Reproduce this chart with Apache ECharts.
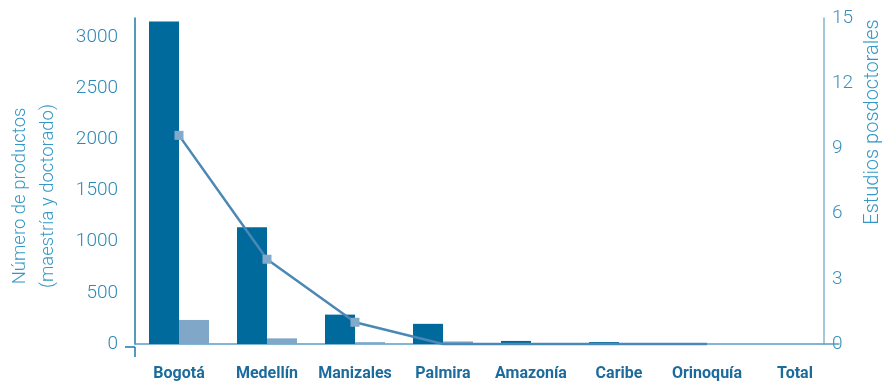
<!DOCTYPE html>
<html>
<head>
<meta charset="utf-8">
<script src="https://cdn.jsdelivr.net/npm/echarts@6/dist/echarts.min.js"></script>
<style>
  html, body { margin: 0; padding: 0; background: #fff; }
  #chart { width: 892px; height: 382px; }
</style>
</head>
<body>
<div id="chart"></div>
<script>
// categorías (sedes)
const categories = ['Bogotá', 'Medellín', 'Manizales', 'Palmira', 'Amazonía', 'Caribe', 'Orinoquía', 'Total'];
// productos maestría / doctorado (eje izquierdo)
const maestria = [3150, 1140, 287, 197, 30, 19, 0, 0];
const doctorado = [235, 55, 18, 25, 5, 3, 0, 0];
// estudios posdoctorales (eje derecho)
const posdoc = [9.6, 3.9, 1, 0, 0, 0, 0, null];

const leftTicks = { min: 0, max: 3184, interval: 500 };
const rightTicks = { min: 0, max: 15, interval: 3 };

const numFont = { fontFamily: 'Roboto', fontWeight: 300, fontSize: 19 };

let myChart = echarts.init(document.getElementById('chart'));
myChart.setOption({
  animation: false,
  grid: { left: 135, right: 53, top: 18, bottom: 35, containLabel: false },
  xAxis: {
    type: 'category',
    data: categories,
    boundaryGap: true,
    axisLine: { lineStyle: { color: '#5a9cc5', width: 1.5 } },
    axisTick: { show: false },
    axisLabel: {
      margin: 22, interval: 0,
      color: '#1c6b9d', fontFamily: 'Roboto', fontWeight: 'bold', fontSize: 16
    }
  },
  yAxis: [
    {
      type: 'value',
      min: leftTicks.min, max: leftTicks.max, interval: leftTicks.interval,
      splitLine: { show: false },
      axisLine: { show: true, lineStyle: { color: '#1b78aa', width: 1.5 } },
      axisTick: { show: false },
      axisLabel: Object.assign({
        margin: 17, color: '#2d89b6', showMaxLabel: false,
        formatter: v => String(v)
      }, numFont)
    },
    {
      type: 'value',
      position: 'right',
      offset: -15,
      min: rightTicks.min, max: rightTicks.max, interval: rightTicks.interval,
      splitLine: { show: false },
      axisLine: { show: true, lineStyle: { color: '#86b5d1', width: 1.5 } },
      axisTick: { show: false },
      axisLabel: Object.assign({ margin: 8, color: '#3a90b8' }, numFont)
    }
  ],
  graphic: [
    { type: 'line', shape: { x1: 125, y1: 347, x2: 135, y2: 347 }, style: { stroke: '#1b78aa', lineWidth: 1.5 } },
    { type: 'line', shape: { x1: 135, y1: 347, x2: 135, y2: 357 }, style: { stroke: '#1b78aa', lineWidth: 1.5 } },
    {
      type: 'text', x: 34, y: 196, rotation: Math.PI / 2,
      style: {
        text: 'Número de productos\n(maestría y doctorado)',
        fill: '#3398c4', font: '300 18.5px Roboto', lineHeight: 28,
        align: 'center', verticalAlign: 'middle'
      }
    },
    {
      type: 'text', x: 873, y: 122, rotation: Math.PI / 2,
      style: {
        text: 'Estudios posdoctorales',
        fill: '#3398c4', font: '300 20px Roboto',
        align: 'center', verticalAlign: 'middle'
      }
    }
  ],
  series: [
    {
      name: 'Maestría',
      type: 'bar',
      data: maestria,
      barWidth: 30,
      barGap: '0%',
      itemStyle: { color: '#006a9c' }
    },
    {
      name: 'Doctorado',
      type: 'bar',
      data: doctorado,
      barWidth: 30,
      itemStyle: { color: '#80a6c8' }
    },
    {
      name: 'Posdoctorales',
      type: 'line',
      yAxisIndex: 1,
      clip: false,
      z: 5,
      data: posdoc.map(v => (v === 0 ? { value: v, symbol: 'none' } : v)),
      symbol: 'rect',
      symbolSize: 9,
      lineStyle: { color: '#4a88b6', width: 2.5 },
      itemStyle: { color: '#84aacb' }
    }
  ]
});
</script>
</body>
</html>
